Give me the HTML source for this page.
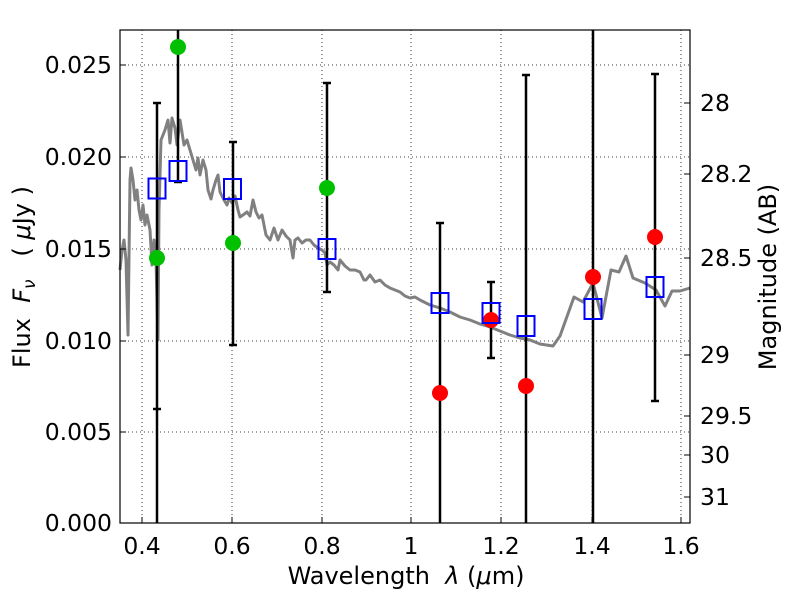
<!DOCTYPE html>
<html><head><meta charset="utf-8"><style>
html,body{margin:0;padding:0;background:#fff;}
svg text{font-family:"DejaVu Sans","Liberation Sans",sans-serif;fill:#000;}
</style></head><body>
<svg width="800" height="600" xmlns="http://www.w3.org/2000/svg">
<rect width="800" height="600" fill="#fff"/>
<g stroke="#000" stroke-width="0.8" stroke-dasharray="1,3" fill="none">
<line x1="142" y1="30" x2="142" y2="523"/>
<line x1="232" y1="30" x2="232" y2="523"/>
<line x1="322" y1="30" x2="322" y2="523"/>
<line x1="411" y1="30" x2="411" y2="523"/>
<line x1="501" y1="30" x2="501" y2="523"/>
<line x1="592" y1="30" x2="592" y2="523"/>
<line x1="681" y1="30" x2="681" y2="523"/>
<line x1="120" y1="65" x2="690" y2="65"/>
<line x1="120" y1="157" x2="690" y2="157"/>
<line x1="120" y1="249" x2="690" y2="249"/>
<line x1="120" y1="341" x2="690" y2="341"/>
<line x1="120" y1="432" x2="690" y2="432"/>
</g>
<polyline fill="none" stroke="#808080" stroke-width="3" stroke-linejoin="round" points="120,270 122,250 124,240 126,260 128,335 130,180 131,168 133,180 135,200 137,190 139,210 141,220 143,205 145,225 147,215 150,230 152,265 154,240 156,260 158,340 159,210 161,140 165,130 168,120 170,143 172,118 175,128 177,145 180,120 184,145 187,140 190,150 193,160 196,170 198,158 200,175 203,160 206,170 208,190 211,199 213,190 216,180 218,175 220,192 224,200 227,205 229,198 232,203 235,196 238,210 240,217 243,215 247,212 250,216 253,200 256,212 259,218 262,215 266,235 270,240 274,228 278,240 282,230 286,236 290,240 293,258 295,240 298,238 302,243 306,240 310,240 314,245 318,248 322,250 325,253 327,265 330,262 334,265 338,270 340,260 345,266 350,270 355,270 360,272 364,280 366,280 370,275 375,282 380,280 385,285 390,288 395,290 400,292 405,296 410,298 415,297 420,300 430,305 440,308 450,312 460,317 470,320 480,324 490,327 500,331 510,335 520,338 530,340 540,344 553,346 560,336 574,297 583,302 593,283 602,318 611,270 619,272 626,256 633,278 645,283 656,290 665,306 672,291 680,291 690,288"/>
<g stroke="#000" stroke-width="2.5" fill="none">
<line x1="157" y1="103" x2="157" y2="523"/><line x1="153" y1="103" x2="161" y2="103"/><line x1="153" y1="409" x2="161" y2="409"/>
<line x1="178" y1="30" x2="178" y2="182"/><line x1="174" y1="182" x2="182" y2="182"/>
<line x1="233" y1="142" x2="233" y2="345"/><line x1="229" y1="142" x2="237" y2="142"/><line x1="229" y1="345" x2="237" y2="345"/>
<line x1="327" y1="83" x2="327" y2="292"/><line x1="323" y1="83" x2="331" y2="83"/><line x1="323" y1="292" x2="331" y2="292"/>
<line x1="440" y1="223" x2="440" y2="523"/><line x1="436" y1="223" x2="444" y2="223"/>
<line x1="491" y1="282" x2="491" y2="358"/><line x1="487" y1="282" x2="495" y2="282"/><line x1="487" y1="358" x2="495" y2="358"/>
<line x1="526" y1="75" x2="526" y2="523"/><line x1="522" y1="75" x2="530" y2="75"/>
<line x1="593" y1="30" x2="593" y2="523"/>
<line x1="655" y1="74" x2="655" y2="401"/><line x1="651" y1="74" x2="659" y2="74"/><line x1="651" y1="401" x2="659" y2="401"/>
</g>
<g fill="#00c000">
<circle cx="157" cy="258" r="8"/><circle cx="178" cy="47" r="8"/><circle cx="233" cy="243" r="8"/><circle cx="327" cy="188" r="8"/>
</g>
<g fill="#ff0000">
<circle cx="440" cy="393" r="8"/><circle cx="491" cy="320" r="8"/><circle cx="526" cy="386" r="8"/><circle cx="593" cy="277" r="8"/><circle cx="655" cy="237" r="8"/>
</g>
<g fill="none" stroke="#0000ff" stroke-width="2">
<rect x="148.5" y="178.5" width="17" height="20"/>
<rect x="169.5" y="161" width="17" height="20"/>
<rect x="224" y="179" width="17" height="20"/>
<rect x="318.5" y="239" width="17" height="20"/>
<rect x="431.5" y="293" width="17" height="20"/>
<rect x="482.5" y="303" width="17" height="20"/>
<rect x="517.5" y="316" width="17" height="20"/>
<rect x="584.5" y="299" width="17" height="20"/>
<rect x="646.5" y="277" width="17" height="20"/>
</g>
<rect x="120" y="30" width="570" height="493" fill="none" stroke="#000" stroke-width="1.2"/>
<g stroke="#000" stroke-width="1">
<line x1="142" y1="523" x2="142" y2="517"/><line x1="232" y1="523" x2="232" y2="517"/><line x1="322" y1="523" x2="322" y2="517"/><line x1="411" y1="523" x2="411" y2="517"/><line x1="501" y1="523" x2="501" y2="517"/><line x1="592" y1="523" x2="592" y2="517"/><line x1="681" y1="523" x2="681" y2="517"/>
<line x1="120" y1="65" x2="126" y2="65"/><line x1="120" y1="157" x2="126" y2="157"/><line x1="120" y1="249" x2="126" y2="249"/><line x1="120" y1="341" x2="126" y2="341"/><line x1="120" y1="432" x2="126" y2="432"/>
<line x1="690" y1="103" x2="684" y2="103"/><line x1="690" y1="174" x2="684" y2="174"/><line x1="690" y1="258" x2="684" y2="258"/><line x1="690" y1="355" x2="684" y2="355"/><line x1="690" y1="416" x2="684" y2="416"/><line x1="690" y1="455" x2="684" y2="455"/><line x1="690" y1="497" x2="684" y2="497"/>
</g>
<g font-size="23.5" text-anchor="middle">
<text x="142" y="554">0.4</text><text x="232" y="554">0.6</text><text x="322" y="554">0.8</text><text x="411" y="554">1</text><text x="501" y="554">1.2</text><text x="592" y="554">1.4</text><text x="681" y="554">1.6</text>
</g>
<g font-size="23.5" text-anchor="end">
<text x="112" y="73">0.025</text><text x="112" y="165">0.020</text><text x="112" y="257">0.015</text><text x="112" y="349">0.010</text><text x="112" y="440">0.005</text><text x="112" y="531">0.000</text>
</g>
<g font-size="23.5">
<text x="700" y="111">28</text><text x="700" y="182">28.2</text><text x="700" y="266">28.5</text><text x="700" y="363">29</text><text x="700" y="424">29.5</text><text x="700" y="463">30</text><text x="700" y="505">31</text>
</g>
<text x="406" y="584" font-size="24" text-anchor="middle" xml:space="preserve">Wavelength  <tspan font-style="italic">λ</tspan> (<tspan font-style="italic">μ</tspan>m)</text>
<text transform="translate(30,277) rotate(-90)" font-size="24" text-anchor="middle" xml:space="preserve">Flux  <tspan font-style="italic">F</tspan><tspan font-style="italic" font-size="17" dy="5">ν</tspan><tspan dy="-5">   ( </tspan><tspan font-style="italic">μ</tspan>Jy )</text>
<text transform="translate(776,277) rotate(-90)" font-size="24" text-anchor="middle">Magnitude (AB)</text>
</svg>
</body></html>
